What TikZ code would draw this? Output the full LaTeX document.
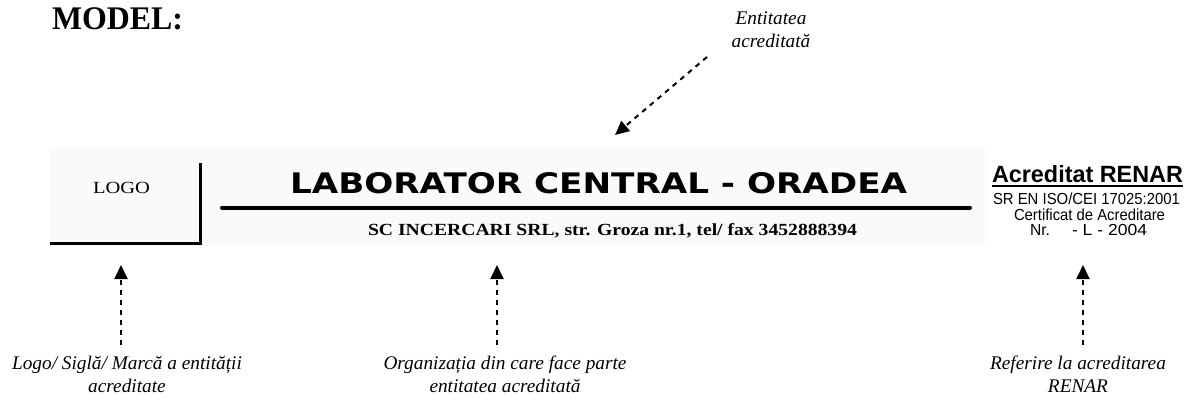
\documentclass[tikz,border=0pt]{standalone}
\usepackage{fontspec}
\usepackage{graphicx}
\setmainfont{Liberation Serif}
\setsansfont{Liberation Sans}
\newfontfamily\wideboldfont{DejaVu Sans}
\usetikzlibrary{arrows.meta}
\newcommand{\fitw}[2]{\resizebox{#1}{\height}{#2}}
\tikzset{
  txt/.style={inner sep=0pt, outer sep=0pt},
  lbl/.style={inner sep=0pt, align=center, font=\fontsize{19.3}{22.5}\selectfont\itshape},
  darr/.style={-{Triangle[length=14pt,width=13pt]}, line width=2pt, dash pattern=on 5pt off 5pt},
  frame/.style={line width=3pt},
  rule/.style={line width=4pt, line cap=round},
}
\begin{document}
\begin{tikzpicture}[x=1pt,y=-1pt]
\useasboundingbox (0,0) rectangle (1188,402);
% faint header background
\fill[black!2] (50,148) rectangle (985,246);
% title
\node[txt, anchor=base west] (model) at (52,29) {\fitw{131pt}{\fontsize{33}{36}\selectfont\bfseries MODEL:}};
% logo box
\coordinate (lb1) at (50,243);
\coordinate (lb2) at (200,243);
\coordinate (lb3) at (200,163);
\draw[frame] (lb1) -- (lb2) -- (lb3);
\node[txt, anchor=base west] (logo) at (93,193) {\fitw{57pt}{\fontsize{17}{20}\selectfont LOGO}};
% laboratory name
\node[txt, anchor=south west] (lab) at (290,194) {\resizebox{617pt}{21pt}{\wideboldfont\bfseries LABORATOR CENTRAL - ORADEA}};
\coordinate (r1) at (222,207.5);
\coordinate (r2) at (970,207.5);
\draw[rule] (r1) -- (r2);
\node[txt, anchor=base west] (org) at (368,235) {\fitw{489pt}{\fontsize{17}{20}\selectfont\bfseries SC INCERCARI SRL, str. Groza nr.1, tel/ fax 3452888394}};
% RENAR block
\node[txt, anchor=base west] (renar) at (992,182) {\fitw{191pt}{\fontsize{23.5}{26}\selectfont\sffamily\bfseries Acreditat RENAR}};
\coordinate (u1) at (992,186);
\coordinate (u2) at (1183,186);
\draw[line width=2pt] (u1) -- (u2);
\node[txt, anchor=base west] (iso) at (993,204.5) {\fitw{187pt}{\fontsize{16}{18}\selectfont\sffamily SR EN ISO/CEI 17025:2001}};
\node[txt, anchor=base west] (cert) at (1014,220) {\fitw{151pt}{\fontsize{16}{18}\selectfont\sffamily Certificat de Acreditare}};
\node[txt, anchor=base west] (nr) at (1030,235) {\fitw{20pt}{\fontsize{16}{18}\selectfont\sffamily Nr.}};
\node[txt, anchor=base east] (nrl) at (1147,235) {\fitw{75pt}{\fontsize{16}{18}\selectfont\sffamily - L - 2004}};
% annotation labels (anchor base = baseline of last line)
\node[lbl, anchor=base] (ent) at (771,47) {Entitatea\\acreditată};
\node[lbl, anchor=base] (l1) at (127,392) {Logo/ Siglă/ Marcă a entității\\acreditate};
\node[lbl, anchor=base] (l2) at (505,392) {Organizația din care face parte\\entitatea acreditată};
\node[lbl, anchor=base] (l3) at (1078,392) {Referire la acreditarea\\RENAR};
% arrows
\coordinate (e0) at (707,57);
\coordinate (e1) at (615,135);
\draw[darr] (e0) -- (e1);
\coordinate (a0) at (121,345);
\coordinate (a1) at (121,265);
\draw[darr] (a0) -- (a1);
\coordinate (b0) at (497,345);
\coordinate (b1) at (497,265);
\draw[darr] (b0) -- (b1);
\coordinate (c0) at (1083,345);
\coordinate (c1) at (1083,265);
\draw[darr] (c0) -- (c1);
\end{tikzpicture}
\end{document}
